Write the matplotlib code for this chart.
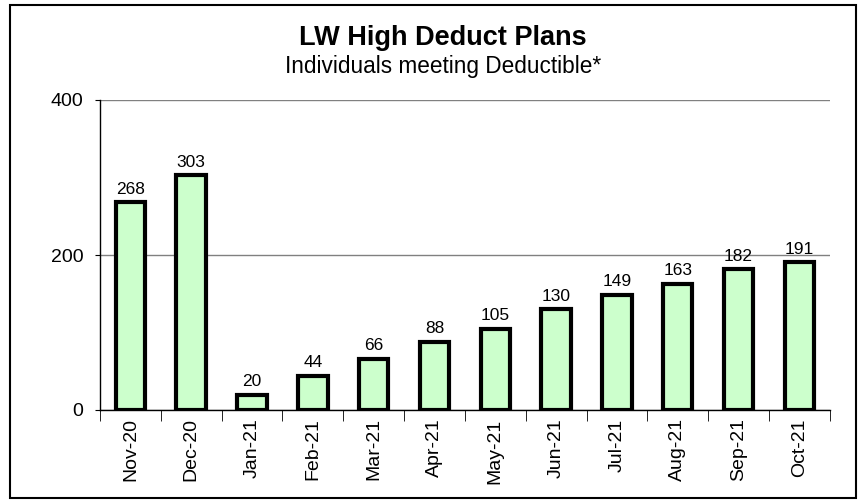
import matplotlib.pyplot as plt
from matplotlib.patches import Rectangle

meses = ["Nov-20", "Dec-20", "Jan-21", "Feb-21", "Mar-21", "Apr-21",
         "May-21", "Jun-21", "Jul-21", "Aug-21", "Sep-21", "Oct-21"]
individuos = [268, 303, 20, 44, 66, 88, 105, 130, 149, 163, 182, 191]

plt.rcParams['font.family'] = ['Liberation Sans', 'DejaVu Sans']

fig = plt.figure(figsize=(8.59, 5), dpi=100)
ax = fig.add_axes([0.1164, 0.18, 0.966 - 0.1164, 0.62])

x = list(range(len(meses)))
ax.bar(x, individuos, width=0.485, color="#CCFFCC", edgecolor="black", linewidth=3, zorder=3)

for xi, v in zip(x, individuos):
    ax.text(xi, v + 7, str(v), ha="center", va="bottom", fontsize=12.5)

ax.set_xlim(-0.5, len(meses) - 0.5)
ax.set_ylim(0, 400)
ax.set_yticks([0, 200, 400])
ax.tick_params(axis="y", labelsize=14, length=3.6, direction="out", pad=8.5)
ax.yaxis.grid(True, color="#808080", linewidth=1)
ax.set_axisbelow(True)

ax.set_xticks(x)
ax.set_xticklabels(meses, rotation=90, fontsize=14)
ax.tick_params(axis="x", length=0, pad=6)
ax.set_xticks([i + 0.5 for i in range(-1, len(meses))], minor=True)
ax.tick_params(axis="x", which="minor", length=8, direction="out")

for s in ["top", "right"]:
    ax.spines[s].set_visible(False)
ax.spines["left"].set_linewidth(1)
ax.spines["bottom"].set_linewidth(1)

fig.text(0.516, 0.91, "LW High Deduct Plans", ha="center", va="baseline",
         fontsize=19.5, fontweight="bold")
fig.text(0.516, 0.854, "Individuals meeting Deductible*", ha="center", va="baseline",
         fontsize=16.3)

fig.patches.append(Rectangle((10 / 859, 0.004), 846 / 859, 0.986, transform=fig.transFigure,
                             fill=False, edgecolor="black", linewidth=1.5))

plt.savefig("out.png", dpi=100)
plt.close()
